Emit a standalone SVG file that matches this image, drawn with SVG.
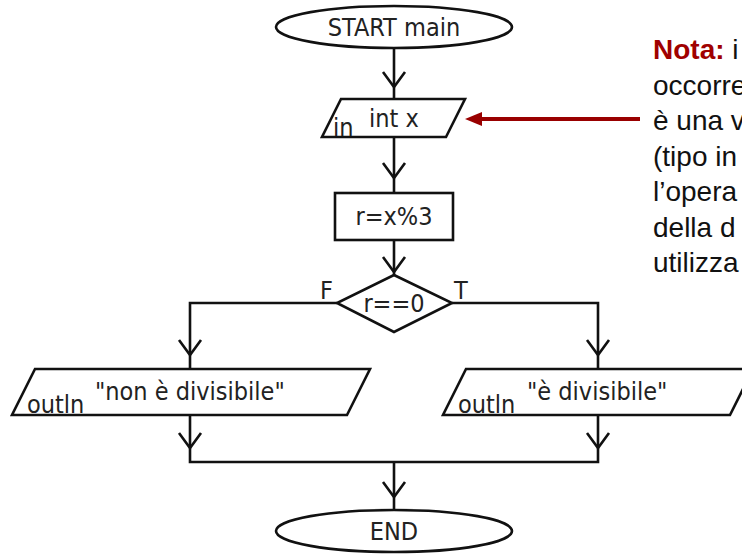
<svg xmlns="http://www.w3.org/2000/svg" xmlns:xlink="http://www.w3.org/1999/xlink" width="742" height="557" viewBox="0 0 742 557">
<style>
.sh{fill:#fff;stroke:#111;stroke-width:2.6}
.ln{fill:none;stroke:#111;stroke-width:2.6}
.t{font-family:'DejaVu Sans Condensed','DejaVu Sans',sans-serif;font-size:25px;fill:#222}
.m{text-anchor:middle}
.note{font-family:'Liberation Sans',Arial,sans-serif;font-size:28px;fill:#111}
</style>
<defs>
<path id="v" d="M-11,-15 L0,0 L11,-15" fill="none" stroke="#111" stroke-width="2.6"/>
</defs>
<rect width="742" height="557" fill="#fff"/>
<g id="connectors">
<path class="ln" d="M394,48 V99"/>
<use xlink:href="#v" x="394" y="87"/>
<path class="ln" d="M394,137 V193"/>
<use xlink:href="#v" x="394" y="178"/>
<path class="ln" d="M394,240 V275"/>
<use xlink:href="#v" x="394" y="272"/>
<path class="ln" d="M337,303 H190 V369"/>
<use xlink:href="#v" x="190" y="355"/>
<path class="ln" d="M452,303 H598 V369"/>
<use xlink:href="#v" x="598" y="355"/>
<path class="ln" d="M190,415 V462 H598 V415"/>
<use xlink:href="#v" x="190" y="448"/>
<use xlink:href="#v" x="598" y="448"/>
<path class="ln" d="M394,462 V510"/>
<use xlink:href="#v" x="394" y="497"/>
<text class="t" x="320" y="299">F</text>
<text class="t" x="454" y="299">T</text>
</g>
<g id="start">
<ellipse class="sh" cx="394" cy="27" rx="118" ry="21"/>
<text class="t m" x="394" y="36">START main</text>
</g>
<g id="input">
<polygon class="sh" points="341,99 465,99 446,137 322,137"/>
<text class="t" x="333" y="136">in</text>
<text class="t" x="369" y="127">int x</text>
</g>
<g id="assign">
<rect class="sh" x="335" y="193" width="118" height="47"/>
<text class="t m" x="394" y="225">r=x%3</text>
</g>
<g id="decision">
<polygon class="sh" points="394,275 452,303 394,332 337,303"/>
<text class="t m" x="394" y="312">r==0</text>
</g>
<g id="out-false">
<polygon class="sh" points="35,369 370,369 347,415 12,415"/>
<text class="t" x="27" y="413">outln</text>
<text class="t" x="95" y="400">"non è divisibile"</text>
</g>
<g id="out-true">
<polygon class="sh" points="466,369 753,369 730,415 443,415"/>
<text class="t" x="458" y="413">outln</text>
<text class="t" x="527" y="400">"è divisibile"</text>
</g>
<g id="end">
<ellipse class="sh" cx="394" cy="531" rx="118" ry="21"/>
<text class="t m" x="394" y="540">END</text>
</g>
<g id="note">
<path d="M640,119 H478" stroke="#990000" stroke-width="4" fill="none"/>
<polygon points="465,119 482,112 482,126" fill="#990000"/>
<text class="note" x="653" y="59"><tspan font-weight="bold" fill="#a00000">Nota:</tspan> i</text>
<text class="note" x="653" y="94.5">occorre</text>
<text class="note" x="653" y="130">è una v</text>
<text class="note" x="653" y="165.5">(tipo in</text>
<text class="note" x="653" y="201">l’opera</text>
<text class="note" x="653" y="236.5">della d</text>
<text class="note" x="653" y="272">utilizza</text>
</g>
</svg>
